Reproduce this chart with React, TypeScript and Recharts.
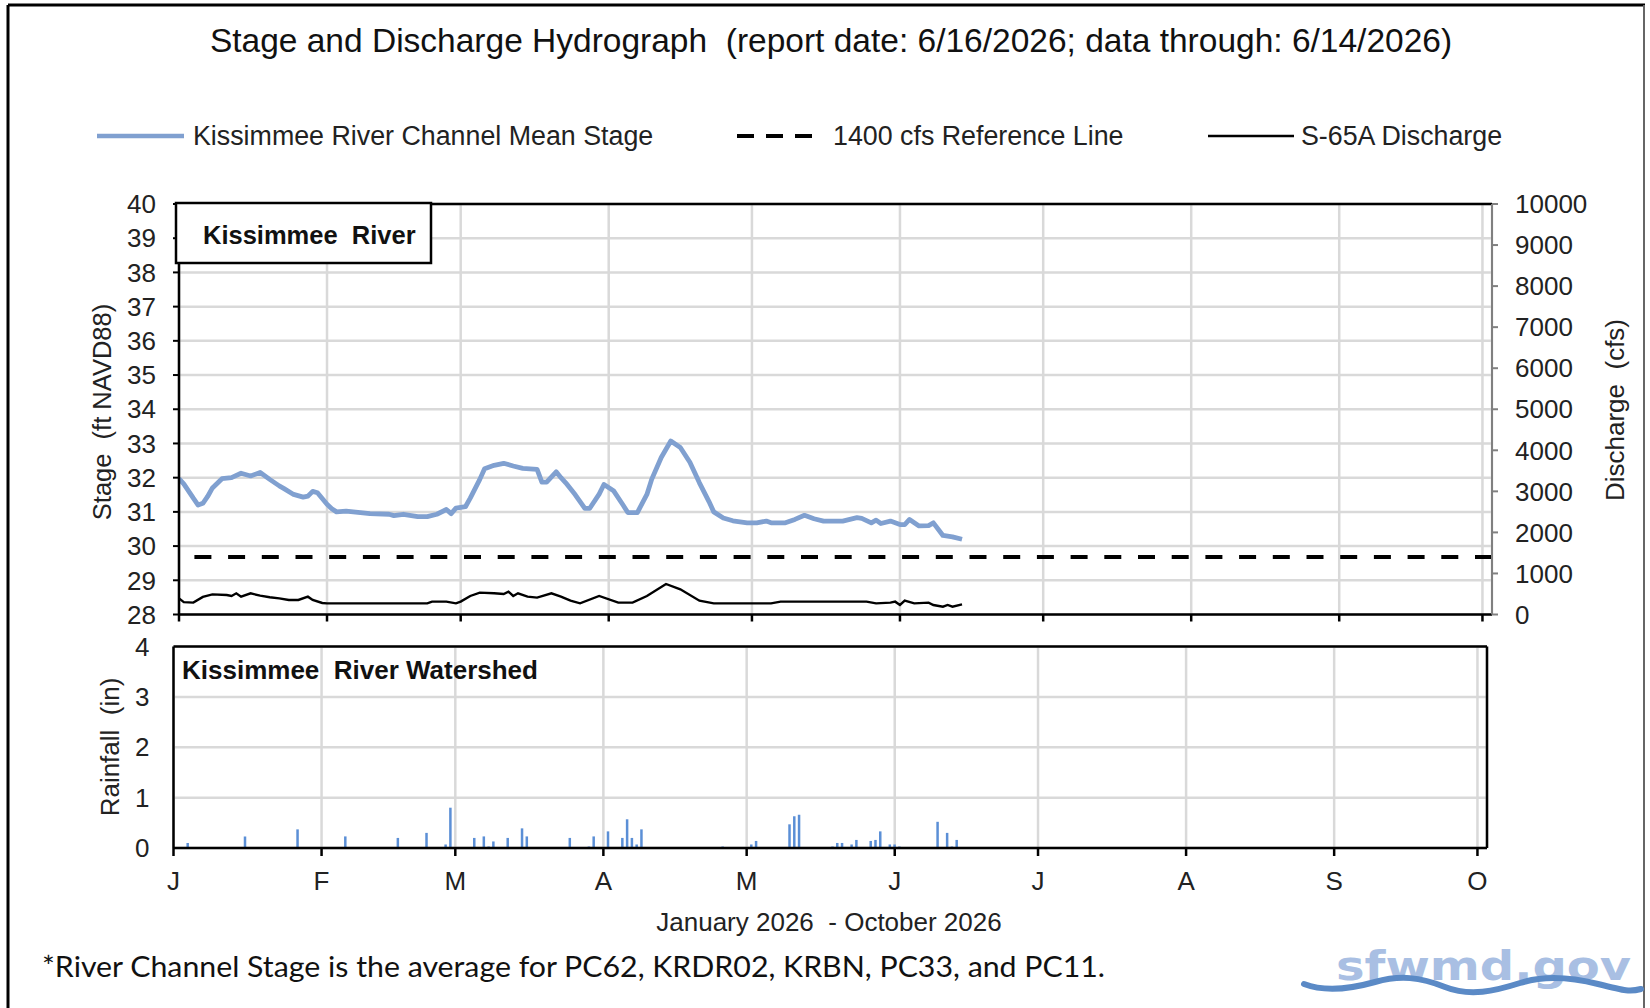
import React from "react";
import {
  ComposedChart,
  Line,
  Bar,
  XAxis,
  YAxis,
  CartesianGrid,
  ReferenceLine,
} from "recharts";

// day-of-year axis, Jan 1 2026 = 0
const monthTicks = [0, 31, 59, 90, 120, 151, 181, 212, 243, 273];
const monthLabels = ["J", "F", "M", "A", "M", "J", "J", "A", "S", "O"];
const stageTicks = [28, 29, 30, 31, 32, 33, 34, 35, 36, 37, 38, 39, 40];
const flowTicks = [0, 1000, 2000, 3000, 4000, 5000, 6000, 7000, 8000, 9000, 10000];
const rainTicks = [0, 1, 2, 3, 4];
const refFlow = 1400;

const stageDays = [
  0, 1, 3, 4, 5, 6, 7, 9, 11, 13, 15, 17, 19, 21, 22, 24, 26, 27, 28, 29, 31, 32, 33, 35, 38, 40,
  44, 45, 47, 50, 52, 54, 56, 57, 58, 60, 61, 63, 64, 66, 68, 70, 72, 75, 76, 77, 79, 80, 81, 83,
  85, 86, 88, 89, 91, 93, 94, 96, 98, 99, 101, 103, 105, 107, 109, 111, 112, 114, 116, 119, 121,
  123, 124, 127, 129, 131, 133, 135, 139, 142, 143, 145, 146, 147, 149, 151, 152, 153, 155, 157,
  158, 160, 162, 164,
];
const stageFt = [
  31.97, 31.82, 31.4, 31.2, 31.25, 31.45, 31.7, 31.97, 32.0, 32.13, 32.05, 32.15, 31.95, 31.76,
  31.68, 31.51, 31.43, 31.46, 31.6, 31.56, 31.22, 31.09, 31.0, 31.02, 30.98, 30.95, 30.93, 30.89,
  30.93, 30.86, 30.86, 30.93, 31.07, 30.95, 31.11, 31.15, 31.4, 31.95, 32.26, 32.36, 32.42, 32.34,
  32.27, 32.24, 31.87, 31.87, 32.17, 32.0, 31.85, 31.5, 31.1, 31.1, 31.52, 31.8, 31.62, 31.2,
  30.98, 30.98, 31.51, 31.95, 32.59, 33.07, 32.88, 32.45, 31.85, 31.3, 31.0, 30.82, 30.74, 30.68,
  30.68, 30.73, 30.68, 30.68, 30.78, 30.9, 30.8, 30.73, 30.73, 30.83, 30.81, 30.68, 30.76, 30.66,
  30.73, 30.63, 30.63, 30.78, 30.59, 30.6, 30.68, 30.31, 30.27, 30.2,
];

const flowDays = [
  0, 1, 3, 5, 7, 10, 11, 12, 13, 15, 17, 19, 21, 23, 25, 27, 28, 30, 31, 52, 53, 56, 58, 59, 61,
  63, 66, 68, 69, 70, 71, 73, 75, 78, 80, 82, 84, 88, 92, 95, 98, 102, 105, 109, 112, 124, 126,
  144, 146, 149, 150, 151, 152, 154, 157, 158, 160, 161, 162, 164,
];
const flowCfs = [
  394, 300, 289, 430, 490, 476, 451, 516, 435, 516, 459, 419, 394, 354, 354, 435, 354, 280, 272,
  272, 313, 313, 272, 313, 451, 532, 516, 500, 557, 451, 516, 435, 411, 516, 435, 337, 272, 451,
  289, 289, 451, 744, 614, 337, 272, 272, 313, 313, 272, 289, 313, 232, 337, 272, 289, 232, 191,
  232, 191, 248,
];

const rainDays = [
  3, 15, 26, 36, 47, 53, 57, 58, 63, 65, 66, 67, 70, 73, 74, 83, 87, 88, 91, 94, 95, 96, 97, 98,
  115, 121, 122, 129, 130, 131, 138, 139, 140, 142, 143, 146, 147, 148, 150, 151, 152, 160, 162,
  163, 164,
];
const rainIn = [
  0.1, 0.23, 0.37, 0.23, 0.2, 0.3, 0.07, 0.8, 0.2, 0.23, 0.03, 0.13, 0.2, 0.39, 0.23, 0.2, 0.03,
  0.23, 0.33, 0.2, 0.57, 0.2, 0.07, 0.37, 0.03, 0.07, 0.14, 0.47, 0.63, 0.66, 0.03, 0.1, 0.1,
  0.07, 0.16, 0.14, 0.16, 0.33, 0.07, 0.07, 0.03, 0.52, 0.3, 0.03, 0.16,
];

const stageRows = stageDays.map((d, i) => ({ day: d, stage: stageFt[i] }));
const flowRows = flowDays.map((d, i) => ({ day: d, flow: flowCfs[i] }));
const rainRows = rainDays.map((d, i) => ({ day: d, rain: rainIn[i] }));

const FONT = "'Liberation Sans', Arial, sans-serif";
const STAGE_COLOR = "#80a0d0";
const RAIN_COLOR = "#5b8fd6";
const GRID = "#d9d9d9";
const tickStyle = { fontSize: 26, fill: "#222", fontFamily: FONT };

function StageChart() {
  return (
    <div style={{ position: "absolute", left: 0, top: 0 }}>
      <ComposedChart
        width={1650}
        height={660}
        margin={{ top: 204, right: 58, bottom: 15.5, left: 119 }}
      >
        <CartesianGrid yAxisId="left" stroke={GRID} strokeWidth={2.5} />
        <XAxis
          dataKey="day"
          type="number"
          domain={[0, 275]}
          ticks={monthTicks}
          height={30}
          tickFormatter={() => ""}
          tickSize={7}
          axisLine={{ stroke: "#000", strokeWidth: 2.5 }}
          tickLine={{ stroke: "#000", strokeWidth: 2.5 }}
          allowDataOverflow
        />
        <YAxis
          yAxisId="left"
          orientation="left"
          width={60}
          domain={[28, 40]}
          ticks={stageTicks}
          interval={0}
          tickSize={6}
          tickMargin={17}
          tick={tickStyle}
          axisLine={{ stroke: "#000", strokeWidth: 2.5 }}
          tickLine={{ stroke: "#000", strokeWidth: 2 }}
        />
        <YAxis
          yAxisId="right"
          orientation="right"
          width={100}
          domain={[0, 10000]}
          ticks={flowTicks}
          interval={0}
          tickSize={6}
          tickMargin={17}
          tick={tickStyle}
          axisLine={{ stroke: "#808080", strokeWidth: 2 }}
          tickLine={{ stroke: "#808080", strokeWidth: 2 }}
        />
        <ReferenceLine yAxisId="left" y={40} stroke="#000" strokeWidth={2.5} />
        <ReferenceLine
          yAxisId="right"
          y={refFlow}
          stroke="#000"
          strokeWidth={4}
          strokeDasharray="17 16.7"
        />
        <Line
          yAxisId="left"
          data={stageRows}
          dataKey="stage"
          type="linear"
          stroke={STAGE_COLOR}
          strokeWidth={4.8}
          strokeLinejoin="round"
          dot={false}
          isAnimationActive={false}
        />
        <Line
          yAxisId="right"
          data={flowRows}
          dataKey="flow"
          type="linear"
          stroke="#000"
          strokeWidth={2.4}
          dot={false}
          isAnimationActive={false}
        />
      </ComposedChart>
    </div>
  );
}

function RainChart() {
  return (
    <div style={{ position: "absolute", left: 0, top: 600 }}>
      <ComposedChart
        width={1650}
        height={310}
        data={rainRows}
        margin={{ top: 46.5, right: 163, bottom: 22, left: 113.5 }}
      >
        <CartesianGrid stroke={GRID} strokeWidth={2.5} />
        <XAxis
          dataKey="day"
          type="number"
          domain={[0, 275]}
          ticks={monthTicks}
          height={40}
          tickFormatter={(v: number) => monthLabels[monthTicks.indexOf(v)]}
          tickSize={8}
          tickMargin={16}
          tick={tickStyle}
          axisLine={{ stroke: "#000", strokeWidth: 2.5 }}
          tickLine={{ stroke: "#000", strokeWidth: 2.5 }}
          allowDataOverflow
        />
        <YAxis
          width={60}
          domain={[0, 4]}
          ticks={rainTicks}
          interval={0}
          tickSize={0}
          tickMargin={24}
          tick={tickStyle}
          axisLine={{ stroke: "#000", strokeWidth: 2.5 }}
          tickLine={false}
        />
        <ReferenceLine y={4} stroke="#000" strokeWidth={2.5} />
        <ReferenceLine x={275} stroke="#000" strokeWidth={2.5} />
        <Bar dataKey="rain" fill={RAIN_COLOR} barSize={2.5} isAnimationActive={false} />
      </ComposedChart>
    </div>
  );
}

function Overlay() {
  return (
    <svg
      width={1650}
      height={1008}
      style={{ position: "absolute", left: 0, top: 0, pointerEvents: "none" }}
      fontFamily={FONT}
    >
      {/* frame */}
      <line x1={8} y1={5} x2={1645} y2={5} stroke="#000" strokeWidth={3} />
      <line x1={8} y1={5} x2={8} y2={1008} stroke="#000" strokeWidth={3} />
      <line x1={1644} y1={5} x2={1644} y2={1008} stroke="#666" strokeWidth={2} />

      <text x={831} y={52} fontSize={33.5} textAnchor="middle" fill="#111" style={{ whiteSpace: "pre" }}>
        {"Stage and Discharge Hydrograph  (report date: 6/16/2026; data through: 6/14/2026)"}
      </text>

      {/* legend */}
      <line x1={97} y1={136} x2={184} y2={136} stroke={STAGE_COLOR} strokeWidth={4.5} />
      <text x={193} y={145} fontSize={26.8} fill="#222">Kissimmee River Channel Mean Stage</text>
      <line x1={737} y1={136} x2={823} y2={136} stroke="#000" strokeWidth={4} strokeDasharray="17 12" />
      <text x={833} y={145} fontSize={26.8} fill="#222">1400 cfs Reference Line</text>
      <line x1={1208} y1={136} x2={1294} y2={136} stroke="#000" strokeWidth={2.5} />
      <text x={1301} y={145} fontSize={26.8} fill="#222">S-65A Discharge</text>

      {/* axis titles */}
      <text transform="translate(111,412) rotate(-90)" fontSize={25.5} textAnchor="middle" fill="#222" style={{ whiteSpace: "pre" }}>
        {"Stage  (ft NAVD88)"}
      </text>
      <text transform="translate(1624,410) rotate(-90)" fontSize={26} textAnchor="middle" fill="#222" style={{ whiteSpace: "pre" }}>
        {"Discharge  (cfs)"}
      </text>
      <text transform="translate(119,747) rotate(-90)" fontSize={26} textAnchor="middle" fill="#222" style={{ whiteSpace: "pre" }}>
        {"Rainfall  (in)"}
      </text>
      <text x={829} y={931} fontSize={26} textAnchor="middle" fill="#222" style={{ whiteSpace: "pre" }}>
        {"January 2026  - October 2026"}
      </text>

      {/* panel labels */}
      <rect x={176} y={203} width={255} height={60} fill="#fff" stroke="#000" strokeWidth={2.5} />
      <text x={203} y={244} fontSize={25.5} fontWeight="bold" fill="#111" style={{ whiteSpace: "pre" }}>
        {"Kissimmee  River"}
      </text>
      <text x={182} y={679} fontSize={26} fontWeight="bold" fill="#111" style={{ whiteSpace: "pre" }}>
        {"Kissimmee  River Watershed"}
      </text>

      {/* footnote */}
      <text x={42} y={977} fontSize={28} fontFamily="Lato, 'Open Sans', sans-serif" fill="#111" textLength={1063} lengthAdjust="spacingAndGlyphs">
        *River Channel Stage is the average for PC62, KRDR02, KRBN, PC33, and PC11.
      </text>

      {/* logo */}
      <text x={1336} y={980} fontSize={40} fontWeight="bold" fontFamily="'DejaVu Sans', sans-serif" fill="#a9bfe3" textLength={295} lengthAdjust="spacingAndGlyphs">
        sfwmd.gov
      </text>
      <path
        d="M1304,984 C1325,992 1350,989 1375,982 S1420,977 1445,987 S1495,991 1520,983 S1570,977 1598,984 S1630,992 1641,989"
        fill="none"
        stroke="#5b8ac6"
        strokeWidth={6}
        strokeLinecap="round"
      />
    </svg>
  );
}

export default function App() {
  return (
    <div
      style={{
        position: "absolute",
        left: 0,
        top: 0,
        width: 1650,
        height: 1008,
        background: "#fff",
        fontFamily: FONT,
        overflow: "hidden",
      }}
    >
      <StageChart />
      <RainChart />
      <Overlay />
    </div>
  );
}
